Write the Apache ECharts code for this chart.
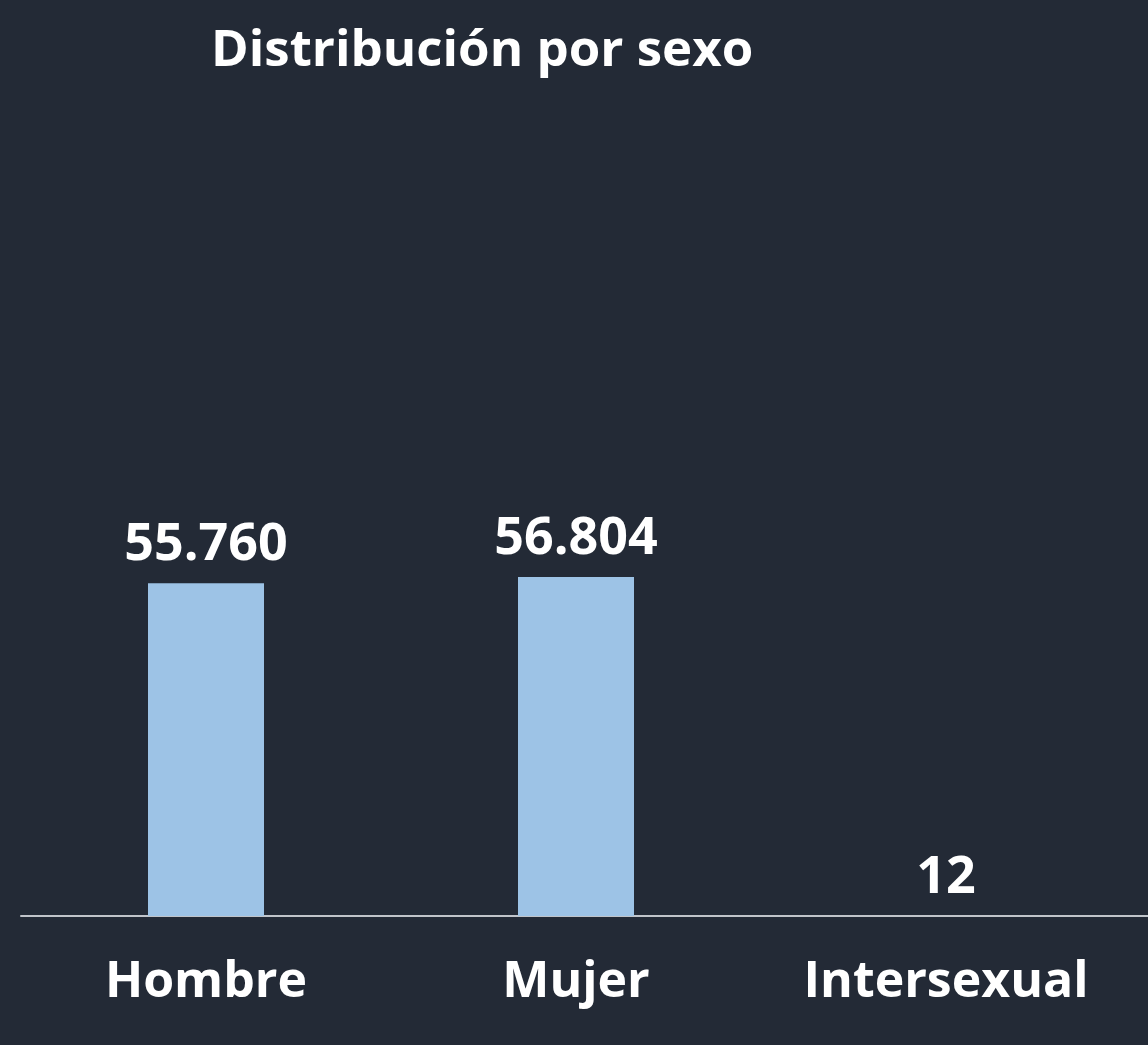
<!DOCTYPE html>
<html>
<head>
<meta charset="utf-8">
<script src="https://cdn.jsdelivr.net/npm/echarts@6/dist/echarts.min.js"></script>
<style>
  html, body { margin: 0; padding: 0; background: #232a36; }
  #main { width: 1148px; height: 1045px; }
</style>
</head>
<body>
<div id="main"></div>
<script>
const categories = ["Hombre", "Mujer", "Intersexual"];
const values = [55760, 56804, 12];

const chart = echarts.init(document.getElementById("main"));

const fmt = (v) => String(v).replace(/\B(?=(\d{3})+(?!\d))/g, ".");
const FONT = "Open Sans";

const option = {
  backgroundColor: "#232a36",
  textStyle: { fontFamily: FONT },
  title: {
    text: "Distribución por sexo",
    left: 206,
    top: 21,
    textStyle: { color: "#ffffff", fontSize: 51, fontWeight: "bold", fontFamily: FONT },
  },
  grid: { left: 21, right: 17, top: 200, bottom: 129 },
  xAxis: {
    type: "category",
    data: categories,
    axisTick: { show: false },
    axisLine: { lineStyle: { color: "#c0c4ca", width: 2 } },
    axisLabel: {
      interval: 0,
      hideOverlap: false,
      color: "#ffffff",
      fontSize: 50,
      fontWeight: "bold",
      margin: 42,
      fontFamily: FONT,
    },
  },
  yAxis: {
    type: "value",
    min: 0,
    max: 120000,
    show: false,
    splitLine: { show: false },
  },
  graphic: [
    {
      type: "line",
      shape: { x1: 1130, y1: 916, x2: 1148, y2: 916 },
      style: { stroke: "#c0c4ca", lineWidth: 2 },
    },
  ],
  series: [
    {
      type: "bar",
      data: values,
      barWidth: 116,
      itemStyle: { color: "#9dc3e6" },
      label: {
        show: true,
        position: "top",
        distance: 12,
        color: "#ffffff",
        fontSize: 52,
        fontWeight: "bold",
        fontFamily: FONT,
        formatter: (p) => fmt(p.value),
      },
    },
  ],
};

chart.setOption(option);
</script>
</body>
</html>
